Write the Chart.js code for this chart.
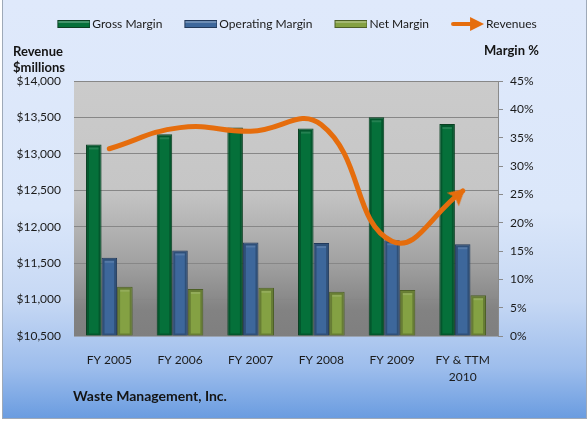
<!DOCTYPE html>
<html><head><meta charset="utf-8">
<script src="https://cdn.jsdelivr.net/npm/chart.js@4.4.1/dist/chart.umd.min.js"></script>
<style>
html,body{margin:0;padding:0;background:#fff;}
#wrap{position:relative;width:588px;height:422px;overflow:hidden;background:#fff;}
#frame{position:absolute;left:2px;top:0;width:583px;height:418px;border:1px solid #9ea9b8;border-top:none;
 background:linear-gradient(to bottom,#dfe9fb 0%,#dbe7fa 50%,#c6d8f4 72%,#9dbdec 88%,#6a9ce0 100%);}
#c{position:absolute;left:0;top:0;}
.lbl{position:absolute;font-family:Lato,"Open Sans",sans-serif;font-weight:bold;font-size:13px;color:#141414;line-height:16px;white-space:nowrap;}
</style></head>
<body>
<div id="wrap">
<div id="frame"></div>
<canvas id="c" width="588" height="422"></canvas>
<div class="lbl" style="left:13px;top:43px;">Revenue<br>$millions</div>
<div class="lbl" style="left:484px;top:42px;">Margin %</div>
<div class="lbl" style="left:73px;top:388px;font-size:14px;">Waste Management, Inc.</div>
</div>
<script>
const categories = ['FY 2005','FY 2006','FY 2007','FY 2008','FY 2009',['FY & TTM','2010']];
const grossMargin = [33.8, 35.6, 36.8, 36.6, 38.6, 37.4];
const operatingMargin = [13.8, 15.1, 16.5, 16.4, 16.9, 16.2];
const netMargin = [8.7, 8.3, 8.5, 7.8, 8.1, 7.2];
const revenues = [13070, 13360, 13310, 13400, 11800, 12490];
const revenueAxis = {min: 10500, max: 14000, step: 500};
const marginAxis = {min: 0, max: 45, step: 5};

const COLORS = {
  gross: '#05703a', grossB: '#0b3f22',
  oper: '#3d679b', operB: '#22395a',
  net: '#84a143', netB: '#4d6027',
  rev: '#e56d0d'
};

function boxIcon(fill, border){
  const c = document.createElement('canvas');
  c.width = 43; c.height = 8;
  const g = c.getContext('2d');
  g.fillStyle = border; g.fillRect(10,0,33,8);
  g.fillStyle = fill; g.fillRect(11,1,31,6);
  g.fillStyle = 'rgba(255,255,255,0.25)'; g.fillRect(11,1,31,2);
  return c;
}
function arrowIcon(color){
  const c = document.createElement('canvas');
  c.width = 43; c.height = 16;
  const g = c.getContext('2d');
  g.strokeStyle = color; g.lineWidth = 4; g.lineCap = 'round';
  g.beginPath(); g.moveTo(12,8); g.lineTo(32,8); g.stroke();
  g.fillStyle = color;
  g.beginPath(); g.moveTo(29,1); g.lineTo(43,8); g.lineTo(29,15); g.closePath(); g.fill();
  return c;
}
function arrowHead(color){
  const c = document.createElement('canvas');
  c.width = 40; c.height = 40;
  const g = c.getContext('2d');
  g.fillStyle = color;
  g.beginPath(); g.moveTo(20,17); g.lineTo(29,33); g.lineTo(20,30); g.lineTo(11,33); g.closePath(); g.fill();
  return c;
}
const legendIcons = [boxIcon(COLORS.gross,COLORS.grossB), boxIcon(COLORS.oper,COLORS.operB), boxIcon(COLORS.net,COLORS.netB), arrowIcon(COLORS.rev)];
const head = arrowHead(COLORS.rev);
const lastIdx = revenues.length - 1;

const plotBg = {
  id:'plotBg',
  beforeDraw(chart){
    const a = chart.chartArea, ctx = chart.ctx;
    const gr = ctx.createLinearGradient(0,a.top,0,a.bottom);
    gr.addColorStop(0,'#cbcbcb'); gr.addColorStop(0.42,'#c6c6c6');
    gr.addColorStop(0.7,'#a3a3a3'); gr.addColorStop(0.9,'#828282'); gr.addColorStop(1,'#7f7f7f');
    ctx.save(); ctx.fillStyle = gr; ctx.fillRect(a.left,a.top,a.right-a.left,a.bottom-a.top); ctx.restore();
  }
};
const barBevel = {
  id:'barBevel',
  afterDatasetDraw(chart, args){
    const meta = args.meta;
    if (meta.type !== 'bar') return;
    const ctx = chart.ctx;
    ctx.save();
    meta.data.forEach(el=>{
      const {x,y,base,width} = el.getProps(['x','y','base','width'], true);
      const l = x - width/2, t = Math.min(y,base), h = Math.abs(base-y);
      ctx.strokeStyle = 'rgba(0,0,0,0.22)'; ctx.lineWidth = 2;
      ctx.strokeRect(l+2, t+2, width-4, h-3);
      ctx.fillStyle = 'rgba(255,255,255,0.12)';
      ctx.fillRect(l+3, t+3, width-6, 2);
    });
    ctx.restore();
  }
};
const legendHeight = {
  id:'legendHeight',
  beforeLayout(chart){
    const lg = chart.legend;
    if (lg && !lg._fixed){
      const f = lg.fit.bind(lg);
      lg.fit = function(){ f(); this.height = 79; };
      lg._fixed = true;
    }
  }
};

const font = {family:'Lato, "Open Sans", sans-serif', size:12};
new Chart(document.getElementById('c'), {
  data: {
    labels: categories,
    datasets: [
      {type:'bar', label:'Gross Margin', data:grossMargin, yAxisID:'y1', backgroundColor:COLORS.gross, borderColor:COLORS.grossB, borderWidth:1, order:2},
      {type:'bar', label:'Operating Margin', data:operatingMargin, yAxisID:'y1', backgroundColor:COLORS.oper, borderColor:COLORS.operB, borderWidth:1, order:2},
      {type:'bar', label:'Net Margin', data:netMargin, yAxisID:'y1', backgroundColor:COLORS.net, borderColor:COLORS.netB, borderWidth:1, order:2},
      {type:'line', label:'Revenues', data:revenues, yAxisID:'y', borderColor:COLORS.rev, backgroundColor:COLORS.rev,
       borderWidth:5, borderCapStyle:'round', tension:0.45, fill:false, order:0,
       pointRadius: revenues.map((v,i)=> i===lastIdx ? 10 : 0),
       pointStyle: revenues.map((v,i)=> i===lastIdx ? head : 'circle'),
       pointRotation: 49, pointHoverRadius:0}
    ]
  },
  options: {
    responsive:false, animation:false, devicePixelRatio:1,
    layout:{padding:{top:2,left:0,right:0,bottom:0}},
    datasets:{bar:{categoryPercentage:0.66, barPercentage:1.0}},
    plugins:{
      tooltip:{enabled:false},
      legend:{
        position:'top',
        labels:{
          font:font, color:'#1a1a1a', usePointStyle:true, pointStyleWidth:35, padding:16,
          sort:(a,b)=>a.datasetIndex-b.datasetIndex,
          generateLabels(chart){
            return chart.data.datasets.map((d,i)=>({text:d.label, datasetIndex:i, pointStyle:legendIcons[i], fillStyle:'transparent', strokeStyle:'transparent', lineWidth:0, fontColor:'#1a1a1a', hidden:false}));
          }
        }
      }
    },
    scales:{
      x:{
        grid:{display:false}, border:{display:true,color:'#9aa3b0',width:1},
        ticks:{font:{...font, lineHeight:1.4}, color:'#1a1a1a', padding:8, maxRotation:0, autoSkip:false},
        afterFit(s){ s.height = 86; }
      },
      y:{
        position:'left', min:revenueAxis.min, max:revenueAxis.max,
        grid:{color:'#878787', drawTicks:false}, border:{display:false},
        ticks:{stepSize:revenueAxis.step, font:font, color:'#1a1a1a', padding:13,
          callback:v=>'$'+v.toLocaleString('en-US')},
        afterFit(s){ s.width = 74; }
      },
      y1:{
        position:'right', min:marginAxis.min, max:marginAxis.max,
        grid:{drawOnChartArea:false, drawTicks:true, tickLength:5, color:'#8a8a8a'},
        border:{display:true, color:'#8a8a8a'},
        ticks:{stepSize:marginAxis.step, font:font, color:'#1a1a1a', padding:7, callback:v=>v+'%'},
        afterFit(s){ s.width = 90; }
      }
    }
  },
  plugins:[plotBg, barBevel, legendHeight]
});
</script>
</body></html>
